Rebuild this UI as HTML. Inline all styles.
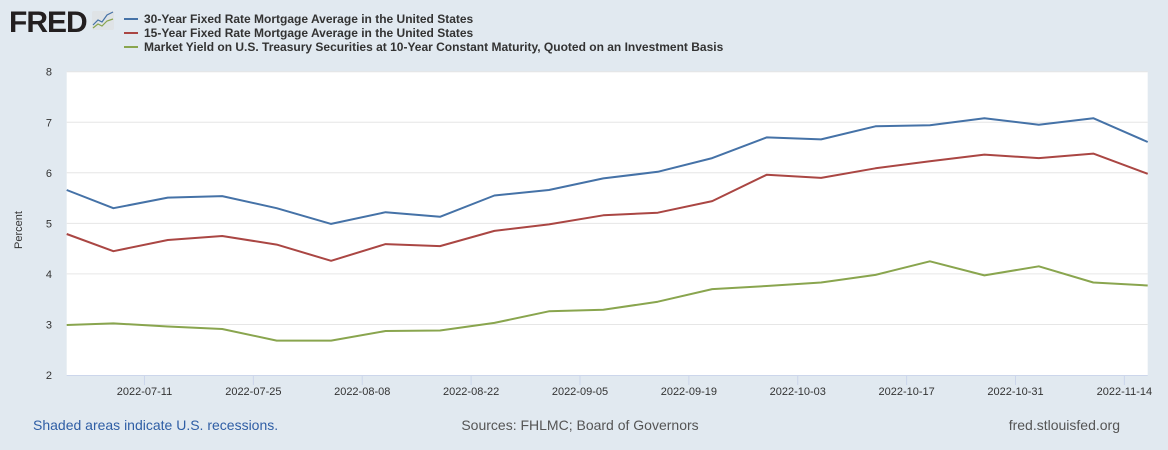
<!DOCTYPE html>
<html><head><meta charset="utf-8"><style>
body{margin:0;background:#e1e9f0;font-family:"Liberation Sans",sans-serif;}
#wrap{position:relative;width:1168px;height:450px;overflow:hidden;background:#e1e9f0;}
</style></head><body>
<div id="wrap">
<svg id="svg" width="1168" height="450" xmlns="http://www.w3.org/2000/svg">
<text x="9" y="32" font-family="Liberation Sans" font-weight="bold" font-size="30" fill="#231f20" letter-spacing="-1">FRED</text>
<g>
<rect x="92" y="11" width="22" height="19" rx="2" fill="#dfe3e6"/>
<polyline points="93,25 98,20 102,22 107,15 113,12" fill="none" stroke="#4572a7" stroke-width="1.2"/>
<polyline points="93,28 98,24 102,26 107,21 113,19" fill="none" stroke="#89a54e" stroke-width="1.2"/>
</g>
<g font-size="12" font-weight="bold" fill="#333">
<g><line x1="124" y1="19" x2="138" y2="19" stroke="#4572a7" stroke-width="2"/><text x="144" y="23">30-Year Fixed Rate Mortgage Average in the United States</text></g>
<g><line x1="124" y1="33" x2="138" y2="33" stroke="#aa4643" stroke-width="2"/><text x="144" y="37">15-Year Fixed Rate Mortgage Average in the United States</text></g>
<g><line x1="124" y1="47" x2="138" y2="47" stroke="#89a54e" stroke-width="2"/><text x="144" y="51">Market Yield on U.S. Treasury Securities at 10-Year Constant Maturity, Quoted on an Investment Basis</text></g>
</g>
<rect x="66.7" y="71.7" width="1081" height="303.3" fill="#fff"/>
<g id="grid"></g>
<g id="yt" font-size="11" fill="#333" text-anchor="end"></g>
<g id="xt" font-size="11" fill="#333" text-anchor="middle"></g>
<g id="series"></g>
<text transform="translate(22,230) rotate(-90)" font-size="11" fill="#333" text-anchor="middle">Percent</text>
<text x="33" y="430" font-size="14" fill="#2f5ea5">Shaded areas indicate U.S. recessions.</text>
<text x="580" y="430" font-size="14" fill="#555" text-anchor="middle">Sources: FHLMC; Board of Governors</text>
<text x="1120" y="430" font-size="14" fill="#555" text-anchor="end">fred.stlouisfed.org</text>
</svg>
</div>
<script>
const dates=["2022-07-01","2022-07-07","2022-07-14","2022-07-21","2022-07-28","2022-08-04","2022-08-11","2022-08-18","2022-08-25","2022-09-01","2022-09-08","2022-09-15","2022-09-22","2022-09-29","2022-10-06","2022-10-13","2022-10-20","2022-10-27","2022-11-03","2022-11-10","2022-11-17"];
const mort30=[5.66,5.30,5.51,5.54,5.30,4.99,5.22,5.13,5.55,5.66,5.89,6.02,6.29,6.70,6.66,6.92,6.94,7.08,6.95,7.08,6.61];
const mort15=[4.79,4.45,4.67,4.75,4.58,4.26,4.59,4.55,4.85,4.98,5.16,5.21,5.44,5.96,5.90,6.09,6.23,6.36,6.29,6.38,5.98];
const treas10=[2.99,3.02,2.96,2.91,2.68,2.68,2.87,2.88,3.03,3.26,3.29,3.45,3.70,3.76,3.83,3.98,4.25,3.97,4.15,3.83,3.77];
const yTicks=[2,3,4,5,6,7,8];
const xTicks=["2022-07-11","2022-07-25","2022-08-08","2022-08-22","2022-09-05","2022-09-19","2022-10-03","2022-10-17","2022-10-31","2022-11-14"];
const NS="http://www.w3.org/2000/svg";
const x0=66.7,x1=1147.7,y0=375,y1=71.7;
const d0=Date.parse("2022-07-01"),d1=Date.parse("2022-11-17");
function xs(d){return x0+(Date.parse(d)-d0)/(d1-d0)*(x1-x0);}
function ys(v){return y0-(v-2)/6*(y0-y1);}
function mk(t,a,p){const e=document.createElementNS(NS,t);for(const k in a)e.setAttribute(k,a[k]);p.appendChild(e);return e;}
const grid=document.getElementById('grid'),yt=document.getElementById('yt'),xt=document.getElementById('xt'),ser=document.getElementById('series');
yTicks.forEach(v=>{
 if(v>2){const l=mk('line',{x1:x0,x2:x1,y1:ys(v),y2:ys(v),stroke:'#e6e6e6','stroke-width':1},grid);
 
 }
 const t=mk('text',{x:52,y:ys(v)+4},yt);t.textContent=v;
 
 
});
const ax=mk('line',{x1:x0,x2:x1,y1:y0+0.5,y2:y0+0.5,stroke:'#ccd6eb','stroke-width':1},xt);


xTicks.forEach(d=>{
 const x=xs(d);
 const tk=mk('line',{x1:x,x2:x,y1:y0,y2:y0+10,stroke:'#ccd6eb'},xt);
 
 
 const t=mk('text',{x:x,y:y0+20},xt);t.textContent=d;
 
 
});
[[mort30,'#4572a7','line-30yr-mortgage'],[mort15,'#aa4643','line-15yr-mortgage'],[treas10,'#89a54e','line-10yr-treasury']].forEach(([vals,c,n])=>{
 const pts=vals.map((v,i)=>xs(dates[i]).toFixed(1)+','+ys(v).toFixed(1)).join(' ');
 const p=mk('polyline',{points:pts,fill:'none',stroke:c,'stroke-width':2,'stroke-linejoin':'round'},ser);
 
 
});
</script>
</body></html>
